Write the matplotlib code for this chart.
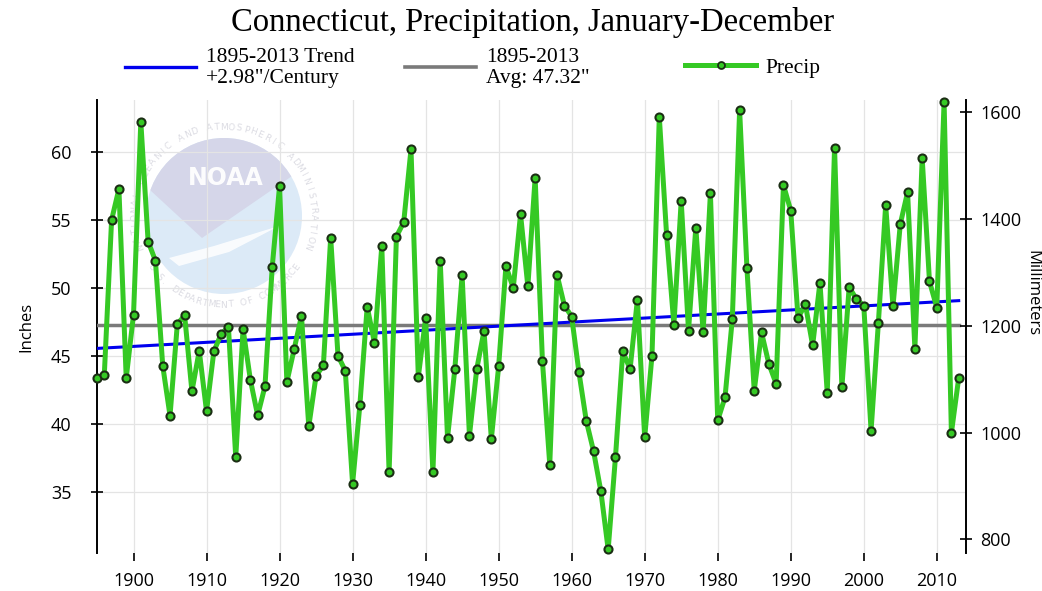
import numpy as np
import matplotlib
matplotlib.use("Agg")
import matplotlib.pyplot as plt
from matplotlib.lines import Line2D
from matplotlib.patches import Circle, Polygon

# ---------------- data ----------------
years = list(range(1895, 2014))
precip_in = [
    43.38, 43.62, 55.02, 57.30, 43.38, 48.04, 62.25, 53.43, 52.03, 44.29,
    40.61, 47.35, 47.99, 42.40, 45.39, 40.93, 45.34, 46.62, 47.13, 37.54,
    46.99, 43.26, 40.63, 42.77, 51.59, 57.52, 43.09, 45.51, 47.96, 39.82,
    43.55, 44.31, 53.72, 45.02, 43.92, 35.59, 41.42, 48.63, 45.96, 53.11,
    36.44, 53.80, 54.85, 60.22, 43.46, 47.79, 36.44, 52.03, 38.97, 44.04,
    50.93, 39.14, 44.04, 46.86, 38.90, 44.24, 51.64, 50.00, 55.44, 50.12,
    58.13, 44.60, 37.01, 50.98, 48.72, 47.91, 43.79, 40.24, 37.99, 35.04,
    30.76, 37.57, 45.34, 44.04, 49.14, 39.01, 45.04, 62.62, 53.92, 47.30,
    56.42, 46.86, 54.46, 46.76, 56.99, 40.26, 41.96, 47.74, 63.11, 51.47,
    42.45, 46.74, 44.43, 42.96, 57.60, 55.71, 47.79, 48.82, 45.78, 50.41,
    42.28, 60.34, 42.69, 50.07, 49.19, 48.72, 39.51, 47.43, 56.12, 48.65,
    54.71, 57.06, 45.54, 59.56, 50.49, 48.57, 63.72, 39.34, 43.38,
]
avg_in = 47.32
trend_per_century = 2.98

title = "Connecticut, Precipitation, January-December"
trend_label = "1895-2013 Trend\n+2.98\"/Century"
avg_label = "1895-2013\nAvg: 47.32\""
precip_label = "Precip"

x_ticks = list(range(1900, 2011, 10))
y_ticks_in = [35, 40, 45, 50, 55, 60]
y_ticks_mm = [800, 1000, 1200, 1400, 1600]

# ---------------- derived ----------------
yrs = np.array(years, dtype=float)
mid = (yrs[0] + yrs[-1]) / 2.0
trend = avg_in + (yrs - mid) * trend_per_century / 100.0
avg_line = np.full_like(yrs, avg_in)

W, H = 1042, 591
fig = plt.figure(figsize=(W / 100, H / 100), dpi=100)
fig.patch.set_facecolor("white")

def px(x0, y0, w, h):
    return [x0 / W, 1 - (y0 + h) / H, w / W, h / H]

# ---------------- NOAA-like watermark ----------------
cx, cy, R = 224, 216, 100
lax = fig.add_axes(px(cx - R, cy - R, 2 * R, 2 * R))
lax.set_xlim(-1, 1)
lax.set_ylim(-1, 1)
lax.set_aspect("equal")
lax.axis("off")
lax.set_zorder(0)
rin = 0.78
disk = Circle((0, 0), rin, facecolor="#dceaf7", edgecolor="none")
lax.add_patch(disk)
top = Polygon([(-1, 0.50), (-0.22, -0.22), (1, 0.62), (1, 1), (-1, 1)],
              closed=True, facecolor="#d5d6e9", edgecolor="none")
lax.add_patch(top)
top.set_clip_path(disk)
wing = Polygon([(-0.55, -0.42), (-0.1, -0.30), (0.55, -0.10), (0.05, -0.36), (-0.45, -0.50)],
               closed=True, facecolor="white", edgecolor="none", alpha=0.85)
lax.add_patch(wing)
wing.set_clip_path(disk)
lax.text(0.02, 0.38, "NOAA", color="white", fontsize=17, fontweight="bold",
         ha="center", va="center", family="DejaVu Sans", alpha=0.95)
ring_text = "NATIONAL OCEANIC AND ATMOSPHERIC ADMINISTRATION"
angs = np.linspace(200, -20, len(ring_text))
for ch, a in zip(ring_text, angs):
    r = 0.89
    lax.text(r * np.cos(np.radians(a)), r * np.sin(np.radians(a)), ch,
             rotation=a - 90, ha="center", va="center", fontsize=6.5,
             color="#dcdce3", family="DejaVu Sans")
ring2 = "U.S. DEPARTMENT OF COMMERCE"
angs2 = np.linspace(215, 325, len(ring2))
for ch, a in zip(ring2, angs2):
    r = 0.89
    lax.text(r * np.cos(np.radians(a)), r * np.sin(np.radians(a)), ch,
             rotation=a + 90, ha="center", va="center", fontsize=6.5,
             color="#dcdce3", family="DejaVu Sans")

# ---------------- main axes ----------------
ax = fig.add_axes(px(97, 100, 869, 453))
ax.set_zorder(1)
ax.set_facecolor("none")

green = "#35c924"
ax.plot(years, trend, color="#0000ee", lw=2.2, zorder=4)
ax.plot(years, avg_line, color="#7a7a7a", lw=2.5, zorder=3)
ax.plot(years, precip_in, color=green, lw=3.6, marker="o", markersize=5.8,
        markerfacecolor=green, markeredgecolor="#1b2e14", markeredgewidth=1.5,
        zorder=5, clip_on=False)

ax.set_xlim(1895, 2014)
ax.set_ylim(30.5, 63.85)
ax.set_xticks(x_ticks)
ax.set_yticks(y_ticks_in)
ax.grid(True, color="#e4e4e4", lw=0.9, zorder=0)
ax.set_axisbelow(True)

for s in ["top", "bottom"]:
    ax.spines[s].set_visible(False)
ax.spines["left"].set_linewidth(1.4)
ax.spines["right"].set_visible(False)

ax.tick_params(axis="x", direction="out", length=6, width=1.2, pad=8,
               labelsize=13, colors="black")
ax.tick_params(axis="y", direction="inout", length=9, width=1.2, pad=14,
               labelsize=13)
for lab in ax.get_xticklabels() + ax.get_yticklabels():
    lab.set_family("Open Sans")
ax.set_ylabel("Inches", family="Open Sans", fontsize=12, labelpad=12)

ax2 = ax.twinx()
ax2.set_zorder(2)
ax2.set_ylim(30.5 * 25.4, 63.85 * 25.4)
ax2.set_yticks(y_ticks_mm)
for s in ["top", "bottom", "left"]:
    ax2.spines[s].set_visible(False)
ax2.spines["right"].set_linewidth(1.4)
ax2.tick_params(axis="y", direction="inout", length=9, width=1.2, pad=6,
                labelsize=13)
for lab in ax2.get_yticklabels():
    lab.set_family("Open Sans")
fig.text(1032 / W, 1 - 293 / H, "Millimeters", rotation=-90, ha="center",
         va="center", family="Open Sans", fontsize=12)

# ---------------- title & legend ----------------
fig.text(533 / W, 1 - 22 / H, title, family="Liberation Serif", fontsize=23.5,
         ha="center", va="center")

serif = {"family": "Liberation Serif", "size": 15.5}
h1 = Line2D([], [], color="#0000ee", lw=2.4)
h2 = Line2D([], [], color="#7a7a7a", lw=2.6)
h3 = Line2D([], [], color=green, lw=3.6, marker="o", markersize=5,
            markerfacecolor=green, markeredgecolor="#1b2e14", markeredgewidth=1.3)
for h, lab, xp, yp in [(h1, trend_label, 125, 68), (h2, avg_label, 405, 68),
                       (h3, precip_label, 685, 68)]:
    lg = fig.legend([h], [lab], loc="center left",
                    bbox_to_anchor=(xp / W, 1 - yp / H), frameon=False,
                    prop=serif, handlelength=3.3, handletextpad=0.45,
                    borderpad=0, borderaxespad=0)
    for t in lg.get_texts():
        t.set_linespacing(1.2)

fig.savefig("out.png", dpi=100)
